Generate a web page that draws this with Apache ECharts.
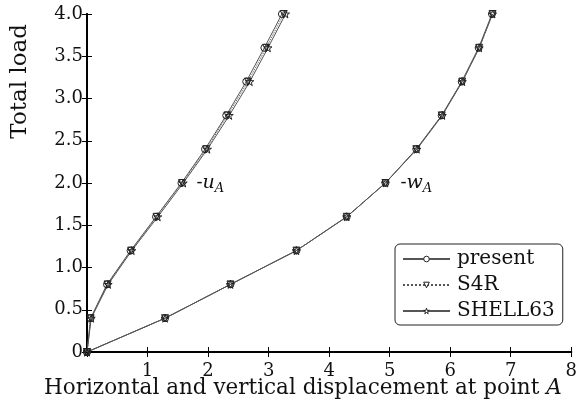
<!DOCTYPE html>
<html>
<head>
<meta charset="utf-8">
<script src="https://cdn.jsdelivr.net/npm/echarts@6/dist/echarts.min.js"></script>
<style>
  html, body { margin: 0; padding: 0; background: #fff; }
  #LoadChart { width: 580px; height: 404px; }
</style>
</head>
<body>
<div id="LoadChart"></div>
<script>
// total load levels (y)
const loads = [0, 0.4, 0.8, 1.2, 1.6, 2.0, 2.4, 2.8, 3.2, 3.6, 4.0];
// -u_A horizontal displacement (x)
const presentU = [0, 0.06, 0.33, 0.72, 1.14, 1.56, 1.95, 2.30, 2.63, 2.93, 3.22];
const s4rU = [0, 0.06, 0.34, 0.73, 1.15, 1.57, 1.97, 2.32, 2.66, 2.96, 3.25];
const shell63U = [0, 0.07, 0.35, 0.74, 1.17, 1.59, 1.99, 2.35, 2.69, 2.99, 3.28];
// -w_A vertical displacement (x)
const presentW = [0, 1.29, 2.37, 3.46, 4.29, 4.93, 5.44, 5.86, 6.19, 6.47, 6.69];
const s4rW = [0, 1.29, 2.37, 3.46, 4.29, 4.93, 5.44, 5.86, 6.20, 6.48, 6.70];
const shell63W = [0, 1.29, 2.37, 3.46, 4.29, 4.93, 5.45, 5.87, 6.20, 6.48, 6.70];
// tick labels
const yTicks = ["0", "0.5", "1.0", "1.5", "2.0", "2.5", "3.0", "3.5", "4.0"];
const xTicks = ["", "1", "2", "3", "4", "5", "6", "7", "8"];

const FONT = "DejaVu Serif";
const INK = "#222";
const STAR = "path://M50,0 L61,35 L98,35 L68,57 L79,91 L50,70 L21,91 L32,57 L2,35 L39,35 Z";

function pairs(xs) {
  return xs.map((x, i) => [x, loads[i]]);
}

const styles = {
  present: { symbol: "circle", symbolSize: 7, symbolRotate: 0, lineType: "solid" },
  S4R: { symbol: "triangle", symbolSize: 7, symbolRotate: 180, lineType: "dotted" },
  SHELL63: { symbol: STAR, symbolSize: 8, symbolRotate: 0, lineType: "solid" },
};

function makeSeries(name, xs, mark) {
  const st = styles[name];
  const s = {
    name: name,
    type: "line",
    data: pairs(xs),
    symbol: st.symbol,
    symbolSize: st.symbolSize,
    symbolRotate: st.symbolRotate,
    showAllSymbol: true,
    animation: false,
    z: 3,
    itemStyle: { color: "rgba(255,255,255,0)", borderColor: INK, borderWidth: 1 },
    lineStyle: { color: "#555", width: 1, type: st.lineType },
  };
  if (mark) {
    s.markPoint = {
      symbol: "circle",
      symbolSize: 0,
      silent: true,
      data: [{ coord: mark.coord }],
      label: {
        show: true,
        position: "right",
        distance: 15,
        formatter: mark.text,
        fontFamily: FONT,
        color: "#111",
        rich: {
          n: { fontSize: 18, fontFamily: FONT, color: "#111" },
          i: { fontSize: 19, fontFamily: FONT, fontStyle: "italic", color: "#111" },
          s: { fontSize: 13, fontFamily: FONT, fontStyle: "italic", color: "#111", padding: [12, 0, 0, 0] },
        },
      },
    };
  }
  return s;
}

const legendItem = (name) => ({
  name: name,
  itemStyle: { color: "#fff", borderColor: INK, borderWidth: 1 },
});

const chart = echarts.init(document.getElementById("LoadChart"));

const options = {
  backgroundColor: "#fff",
  textStyle: { fontFamily: FONT },
  grid: { left: 87, right: 3, top: 14, bottom: 52, containLabel: false },
  legend: {
    orient: "vertical",
    left: 395,
    top: 244,
    padding: [5, 8, 4, 7],
    itemGap: 6,
    itemWidth: 47,
    itemHeight: 7,
    borderColor: INK,
    borderWidth: 1,
    borderRadius: 5,
    backgroundColor: "#fff",
    textStyle: { fontFamily: FONT, fontSize: 20, color: "#111", padding: [0, 0, 0, 2] },
    data: ["present", "S4R", "SHELL63"].map(legendItem),
  },
  xAxis: [
    {
      type: "value", min: 0, max: 8, interval: 1,
      axisLine: { lineStyle: { color: "#000", width: 2 } },
      axisTick: { inside: true, length: 5, lineStyle: { color: "#000" } },
      splitLine: { show: false },
      axisLabel: {
        fontFamily: FONT, fontSize: 18, color: "#111", margin: 10,
        formatter: (v) => xTicks[Math.round(v)],
      },
    },
    {
      type: "value", min: 0, max: 8, interval: 1, position: "top",
      axisLine: { lineStyle: { color: "#000", width: 2 } },
      axisTick: { inside: true, length: 5, lineStyle: { color: "#000" } },
      splitLine: { show: false },
      axisLabel: { show: false },
    },
  ],
  yAxis: [
    {
      type: "value", min: 0, max: 4, interval: 0.5,
      axisLine: { show: true, lineStyle: { color: "#000", width: 2 } },
      axisTick: { show: true, inside: true, length: 5, lineStyle: { color: "#000" } },
      splitLine: { show: false },
      axisLabel: {
        fontFamily: FONT, fontSize: 18, color: "#111", margin: 4,
        formatter: (v) => yTicks[Math.round(v * 2)],
      },
    },
    {
      type: "value", min: 0, max: 4, interval: 0.5, position: "right",
      axisLine: { show: true, lineStyle: { color: "#000", width: 2 } },
      axisTick: { show: true, inside: true, length: 5, lineStyle: { color: "#000" } },
      splitLine: { show: false },
      axisLabel: { show: false },
    },
  ],
  graphic: [
    {
      type: "text",
      left: 9,
      top: 24,
      rotation: Math.PI / 2,
      style: { text: "Total load", font: "23px " + FONT, fill: "#111" },
    },
    {
      type: "text",
      left: 44,
      top: 377,
      style: {
        text: "{n|Horizontal and vertical displacement at point }{i|A}",
        rich: {
          n: { fontSize: 21.5, fontFamily: FONT, fill: "#111" },
          i: { fontSize: 21.5, fontFamily: FONT, fontStyle: "italic", fill: "#111" },
        },
      },
    },
  ],
  series: [
    makeSeries("present", presentU, { coord: [presentU[5], loads[5]], text: "{n|-}{i|u}{s|A}" }),
    makeSeries("S4R", s4rU),
    makeSeries("SHELL63", shell63U),
    makeSeries("present", presentW, { coord: [presentW[5], loads[5]], text: "{n|-}{i|w}{s|A}" }),
    makeSeries("S4R", s4rW),
    makeSeries("SHELL63", shell63W),
  ],
};

chart.setOption(options);
</script>
</body>
</html>
